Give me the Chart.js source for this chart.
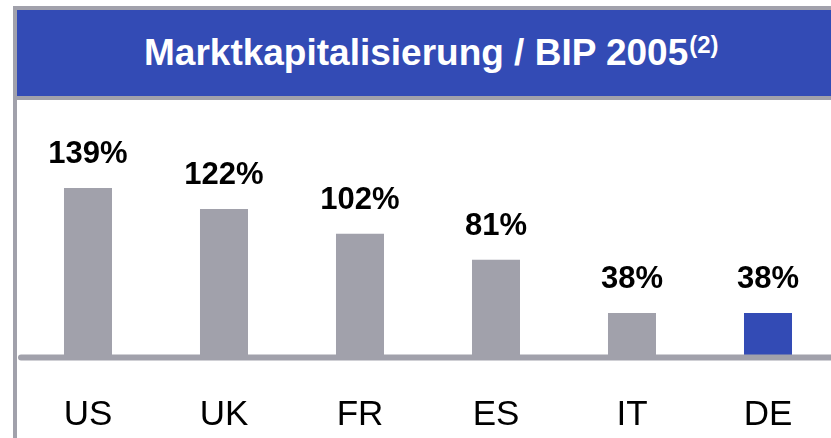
<!DOCTYPE html>
<html lang="de">
<head>
<meta charset="utf-8">
<title>Marktkapitalisierung / BIP 2005</title>
<script src="https://cdn.jsdelivr.net/npm/chart.js@4.4.1/dist/chart.umd.min.js"></script>
<style>
    html, body {
        margin: 0;
        padding: 0;
        background: #ffffff;
        overflow: hidden;
        width: 831px;
        height: 438px;
    }
    .rahmen-links {
        position: absolute;
        left: 13px;
        top: 6px;
        width: 4px;
        height: 432px;
        background: #a1a1ab;
    }
    .kopf {
        position: absolute;
        left: 13px;
        top: 6px;
        width: 818px;
        height: 86px;
        background: #334bb5;
        border-top: 4px solid #a1a1ab;
        border-bottom: 4px solid #a1a1ab;
        border-left: 4px solid #a1a1ab;
    }
    .titel {
        position: absolute;
        left: 144px;
        top: 34px;
        font-family: "Liberation Sans", Arial, sans-serif;
        font-weight: bold;
        font-size: 37px;
        line-height: 37px;
        color: #ffffff;
        white-space: nowrap;
    }
    .titel sup {
        font-size: 24px;
        vertical-align: baseline;
        position: relative;
        top: -12px;
        margin-left: 1px;
    }
    .chart-box {
        position: absolute;
        left: 0;
        top: 100px;
        width: 840px;
        height: 338px;
    }
</style>
</head>
<body>
<div class="rahmen-links"></div>
<div class="kopf"></div>
<div class="titel">Marktkapitalisierung / BIP 2005<sup>(2)</sup></div>
<div class="chart-box"><canvas id="bipChart" width="840" height="338"></canvas></div>

<script>
// Daten
const laender = ['US', 'UK', 'FR', 'ES', 'IT', 'DE'];
const marktkapProzent = [139, 122, 102, 81, 38, 38];
const balkenFarben = ['#a1a1ab', '#a1a1ab', '#a1a1ab', '#a1a1ab', '#a1a1ab', '#334bb5'];

const schrift = '"Liberation Sans", Arial, sans-serif';

// Grundlinie, Werte über den Balken und Länderkürzel darunter
const beschriftungPlugin = {
    id: 'beschriftung',
    afterDatasetsDraw(chart) {
        const ctx = chart.ctx;
        const xScale = chart.scales.x;
        const yScale = chart.scales.y;
        const nullLinie = yScale.getPixelForValue(0);

        // graue Achsenlinie
        ctx.save();
        ctx.strokeStyle = '#a1a1ab';
        ctx.lineWidth = 6;
        ctx.lineCap = 'round';
        ctx.beginPath();
        ctx.moveTo(21, nullLinie - 2.5);
        ctx.lineTo(chart.width + 10, nullLinie - 2.5);
        ctx.stroke();

        // Werte
        ctx.fillStyle = '#000000';
        ctx.textAlign = 'center';
        ctx.textBaseline = 'alphabetic';
        ctx.font = 'bold 31px ' + schrift;
        const meta = chart.getDatasetMeta(0);
        meta.data.forEach((balken, i) => {
            ctx.fillText(marktkapProzent[i] + '%', balken.x, balken.y - 25);
        });

        // Länder
        ctx.font = '35px ' + schrift;
        laender.forEach((land, i) => {
            ctx.fillText(land, xScale.getPixelForValue(i), nullLinie + 65);
        });
        ctx.restore();
    }
};

function erstelleDiagramm() {
    const ctx = document.getElementById('bipChart').getContext('2d');

    new Chart(ctx, {
        type: 'bar',
        data: {
            labels: laender,
            datasets: [{
                data: marktkapProzent,
                backgroundColor: balkenFarben,
                borderWidth: 0,
                barPercentage: 0.353,
                categoryPercentage: 1.0
            }]
        },
        options: {
            responsive: false,
            animation: false,
            layout: {
                padding: { left: 20, right: 4, top: 0, bottom: 78 }
            },
            plugins: {
                legend: { display: false },
                title: { display: false },
                tooltip: { enabled: false }
            },
            scales: {
                x: {
                    display: false,
                    grid: { display: false }
                },
                y: {
                    display: false,
                    min: 0,
                    max: 210,
                    grid: { display: false }
                }
            }
        },
        plugins: [beschriftungPlugin]
    });
}

document.addEventListener('DOMContentLoaded', erstelleDiagramm);
</script>
</body>
</html>
